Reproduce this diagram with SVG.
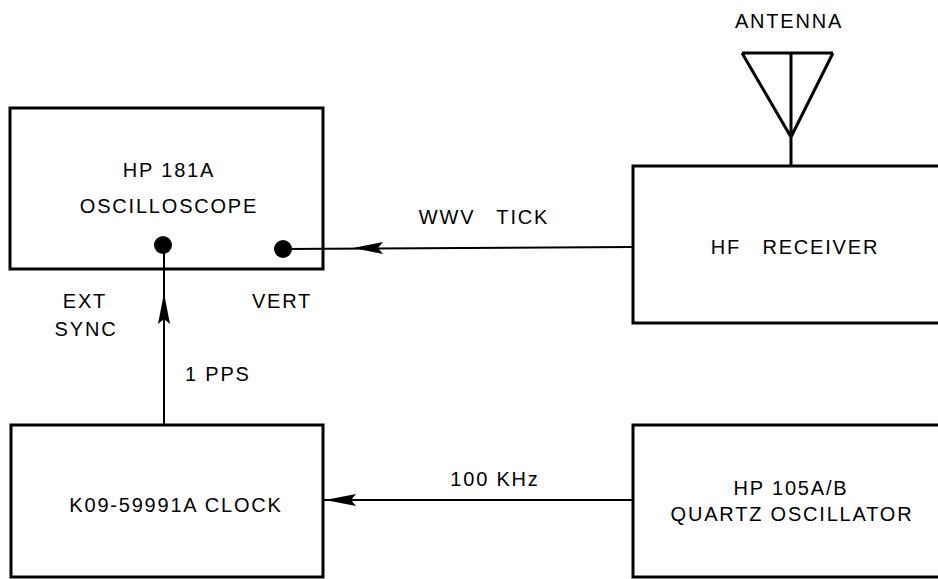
<svg xmlns="http://www.w3.org/2000/svg" width="938" height="579" viewBox="0 0 938 579">
<style>
.box{fill:none;stroke:#000;stroke-width:3}
.ln{fill:none;stroke:#000;stroke-width:2}
.ant{fill:none;stroke:#000;stroke-width:3;stroke-linejoin:miter}
text{font-family:"Liberation Sans",Arial,sans-serif;font-size:20px;letter-spacing:1.8px;fill:#000}
.m{text-anchor:middle}
</style>
<rect width="938" height="579" fill="#fff"/>
<g id="oscilloscope">
<rect class="box" x="10" y="108" width="313" height="161"/>
<text class="m" x="169" y="177">HP 181A</text>
<text class="m" x="169" y="213">OSCILLOSCOPE</text>
<circle cx="163" cy="245" r="9" fill="#000"/>
<circle cx="283" cy="249" r="9" fill="#000"/>
<text class="m" x="85" y="308">EXT</text>
<text class="m" x="86" y="336">SYNC</text>
<text class="m" x="282" y="308">VERT</text>
</g>
<g id="antenna">
<path class="ant" d="M742,53 L833,53 M742,53 L791,137 L833,53 M791,53 L791,167"/>
<text class="m" x="789" y="28">ANTENNA</text>
</g>
<g id="receiver">
<rect class="box" x="633" y="166" width="320" height="157"/>
<text class="m" x="795" y="254">HF <tspan dx="14">RECEIVER</tspan></text>
</g>
<g id="clock">
<rect class="box" x="11" y="425" width="312" height="152"/>
<text class="m" x="176" y="512">K09-59991A CLOCK</text>
</g>
<g id="quartz">
<rect class="box" x="633" y="425" width="320" height="152"/>
<text class="m" x="791" y="495">HP 105A/B</text>
<text class="m" x="792" y="521">QUARTZ OSCILLATOR</text>
</g>
<g id="connectors">
<line class="ln" x1="633" y1="247" x2="283" y2="249"/>
<path d="M383,242 L353,248 L383,254 L378,248 Z" fill="#000"/>
<line class="ln" x1="164" y1="425" x2="164" y2="245"/>
<path d="M158,324 L164,293 L170,324 L164,319 Z" fill="#000"/>
<line class="ln" x1="633" y1="500" x2="323" y2="500"/>
<path d="M356,494 L325,500 L356,506 L351,500 Z" fill="#000"/>
<text class="m" x="484" y="224">WWV <tspan dx="14">TICK</tspan></text>
<text x="185" y="381">1 PPS</text>
<text class="m" x="495" y="486">100 KHz</text>
</g>
</svg>
